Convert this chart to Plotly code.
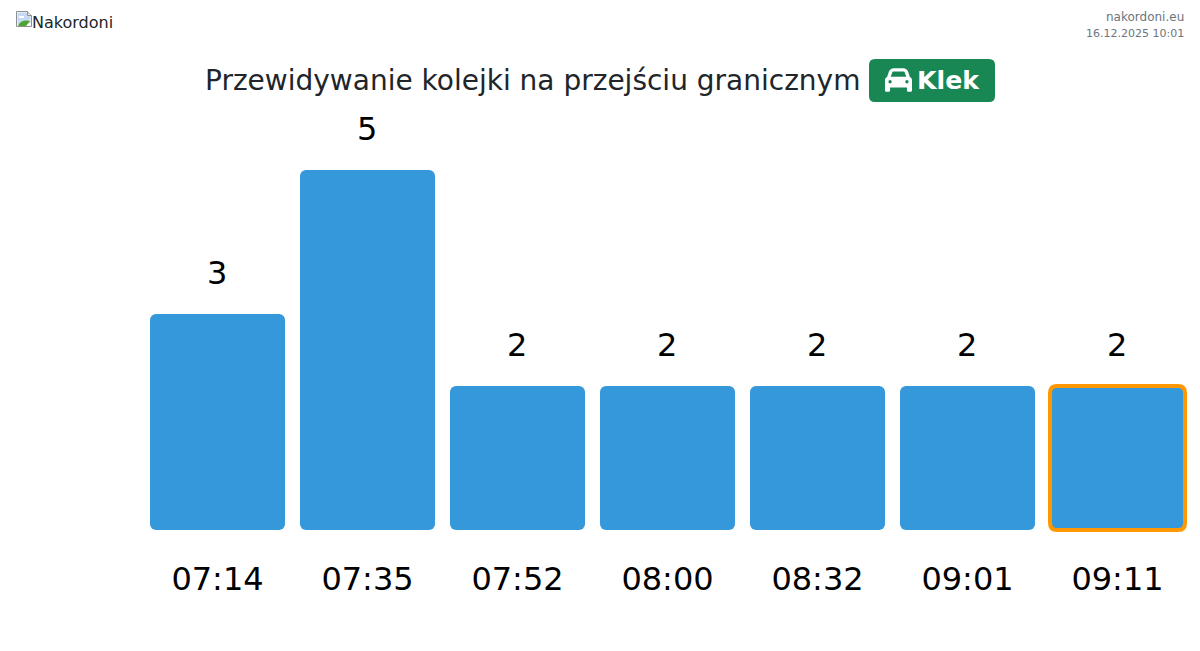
import base64
import plotly.graph_objects as go

times = ['07:14', '07:35', '07:52', '08:00', '08:32', '09:01', '09:11']
queue = [3, 5, 2, 2, 2, 2, 2]
title = 'Przewidywanie kolejki na przejściu granicznym'
border = 'Klek'
site = 'nakordoni.eu'
stamp = '16.12.2025 10:01'
logo_alt = 'Nakordoni'

# the page keeps its 8px body margin, so work in window pixels and subtract it
OFFSET = 8
W, H = 1192, 635
# plot_bottom sits 4px under the zero line so the orange outline is not clipped
plot_left, plot_right, plot_top, plot_bottom = 143, 1193, 134, 534
L, R = plot_left - OFFSET, W + OFFSET - plot_right
T, B = plot_top - OFFSET, H + OFFSET - plot_bottom
pw, ph = plot_right - plot_left, plot_bottom - plot_top
px_per_unit = 72
px_per_slot = 150


def px(x):
    return (x - plot_left) / pw


def py(y):
    return (plot_bottom - y) / ph


def svg_uri(svg):
    return 'data:image/svg+xml;base64,' + base64.b64encode(svg.encode()).decode()


car_svg = ('<svg xmlns="http://www.w3.org/2000/svg" viewBox="0 0 512 512"><path fill="#fff" d="'
           'M135.2 117.4L109.1 192H402.9l-26.1-74.6C372.3 104.6 360.2 96 346.6 96H165.4c-13.6 0-25.7 8.6-30.2 21.4z'
           'M39.6 196.8L74.8 96.3C88.3 57.8 124.6 32 165.4 32H346.6c40.8 0 77.1 25.8 90.6 64.3l35.2 100.5'
           'c23.2 9.6 39.6 32.5 39.6 59.2V400v48c0 17.7-14.3 32-32 32H448c-17.7 0-32-14.3-32-32V400H96v48'
           'c0 17.7-14.3 32-32 32H32c-17.7 0-32-14.3-32-32V400 256c0-26.7 16.4-49.6 39.6-59.2z'
           'M128 288a32 32 0 1 0 -64 0 32 32 0 1 0 64 0zm288 32a32 32 0 1 0 0-64 32 32 0 1 0 0 64z"/></svg>')

broken_svg = ('<svg xmlns="http://www.w3.org/2000/svg" viewBox="0 0 16 16">'
              '<path d="M0.5 0.5H11.5L15.5 4.5V15.5H0.5Z" fill="#fff" stroke="#8e8e8e"/>'
              '<path d="M1.5 1.5H11V5H14.5V12L1.5 14Z" fill="#c5d9f2"/>'
              '<path d="M3 5h5v2h-5z" fill="#fff"/>'
              '<path d="M2 15C4 10 9 8.5 14 10L10 15Z" fill="#4fa32f"/>'
              '<path d="M11.5 0.5V4.5H15.5" fill="#e4e4e4" stroke="#8e8e8e"/></svg>')

positions = list(range(len(times)))
bar_width = 0.9
blue = '#3498db'

# an explicit base makes plotly round both ends of the bar
fig = go.Figure(go.Bar(x=positions, y=queue, base=[0] * len(queue), width=bar_width,
                       marker=dict(color=blue, cornerradius=6, line_width=0), hoverinfo='skip'))

annotations = [dict(x=p, y=v, xref='x', yref='y', text=str(v), showarrow=False,
                    yanchor='bottom', yshift=20, xshift=-0.5, font=dict(size=32, color='#000'))
               for p, v in zip(positions, queue)]


def page_text(text, x, y, size, color, xanchor='left', weight=None):
    font = dict(size=size, color=color)
    if weight:
        font['weight'] = weight
    return dict(x=px(x), y=py(y), xref='paper', yref='paper', text=text, showarrow=False,
                xanchor=xanchor, yanchor='middle', font=font, borderwidth=0, borderpad=0)


annotations += [
    page_text(title, 205, 81, 28, '#212529'),
    page_text(border, 917, 81, 25.2, '#ffffff', weight='bold'),
    page_text(logo_alt, 32, 22.6, 16, '#212529'),
    page_text(site, 1184, 17, 12, '#6c757d', xanchor='right'),
    page_text(stamp, 1184, 33, 11, '#6c757d', xanchor='right'),
]

# rounded green badge behind the border name
bx0, bx1, by0, by1, r = 869, 995, 59, 102, 6
badge = (f'M{px(bx0 + r)},{py(by0)} L{px(bx1 - r)},{py(by0)} Q{px(bx1)},{py(by0)} {px(bx1)},{py(by0 + r)} '
         f'L{px(bx1)},{py(by1 - r)} Q{px(bx1)},{py(by1)} {px(bx1 - r)},{py(by1)} '
         f'L{px(bx0 + r)},{py(by1)} Q{px(bx0)},{py(by1)} {px(bx0)},{py(by1 - r)} '
         f'L{px(bx0)},{py(by0 + r)} Q{px(bx0)},{py(by0)} {px(bx0 + r)},{py(by0)} Z')

# orange outline of the last bar, in axis units so it follows the data
rx = 7 / px_per_slot
ry = 7 / px_per_unit
ox0, ox1 = positions[-1] - bar_width / 2, positions[-1] + bar_width / 2
oy0, oy1 = 0, queue[-1]
outline = (f'M{ox0 + rx},{oy1} L{ox1 - rx},{oy1} Q{ox1},{oy1} {ox1},{oy1 - ry} '
           f'L{ox1},{oy0 + ry} Q{ox1},{oy0} {ox1 - rx},{oy0} '
           f'L{ox0 + rx},{oy0} Q{ox0},{oy0} {ox0},{oy0 + ry} '
           f'L{ox0},{oy1 - ry} Q{ox0},{oy1} {ox0 + rx},{oy1} Z')

fig.update_layout(
    width=W, height=H,
    margin=dict(l=L, r=R, t=T, b=B),
    paper_bgcolor='white', plot_bgcolor='white',
    font=dict(family='DejaVu Sans'),
    showlegend=False,
    annotations=annotations,
    shapes=[
        dict(type='path', path=badge, xref='paper', yref='paper',
             fillcolor='#198754', line_width=0, layer='below'),
        dict(type='path', path=outline, xref='x', yref='y',
             line=dict(color='#ff9800', width=4), layer='above'),
    ],
    images=[
        dict(source=svg_uri(car_svg), xref='paper', yref='paper', x=px(885), y=py(66.5),
             sizex=27 / pw, sizey=27 / ph, xanchor='left', yanchor='top', sizing='stretch', layer='above'),
        dict(source=svg_uri(broken_svg), xref='paper', yref='paper', x=px(16), y=py(11),
             sizex=16 / pw, sizey=16 / ph, xanchor='left', yanchor='top', sizing='stretch', layer='above'),
    ],
    # plotly rounds margins to whole pixels, so the half pixel goes into the x range
    xaxis=dict(range=[-74.5 / px_per_slot, len(times) - 1 + 75.5 / px_per_slot], tickmode='array',
               tickvals=positions, ticktext=times, showgrid=False, showline=False, zeroline=False,
               ticks='', ticklabelstandoff=23, tickfont=dict(size=32, color='#000')),
    yaxis=dict(range=[-4 / px_per_unit, 5.5], visible=False, showgrid=False, zeroline=False),
)

fig.write_html('out.html', config=dict(displayModeBar=False))
